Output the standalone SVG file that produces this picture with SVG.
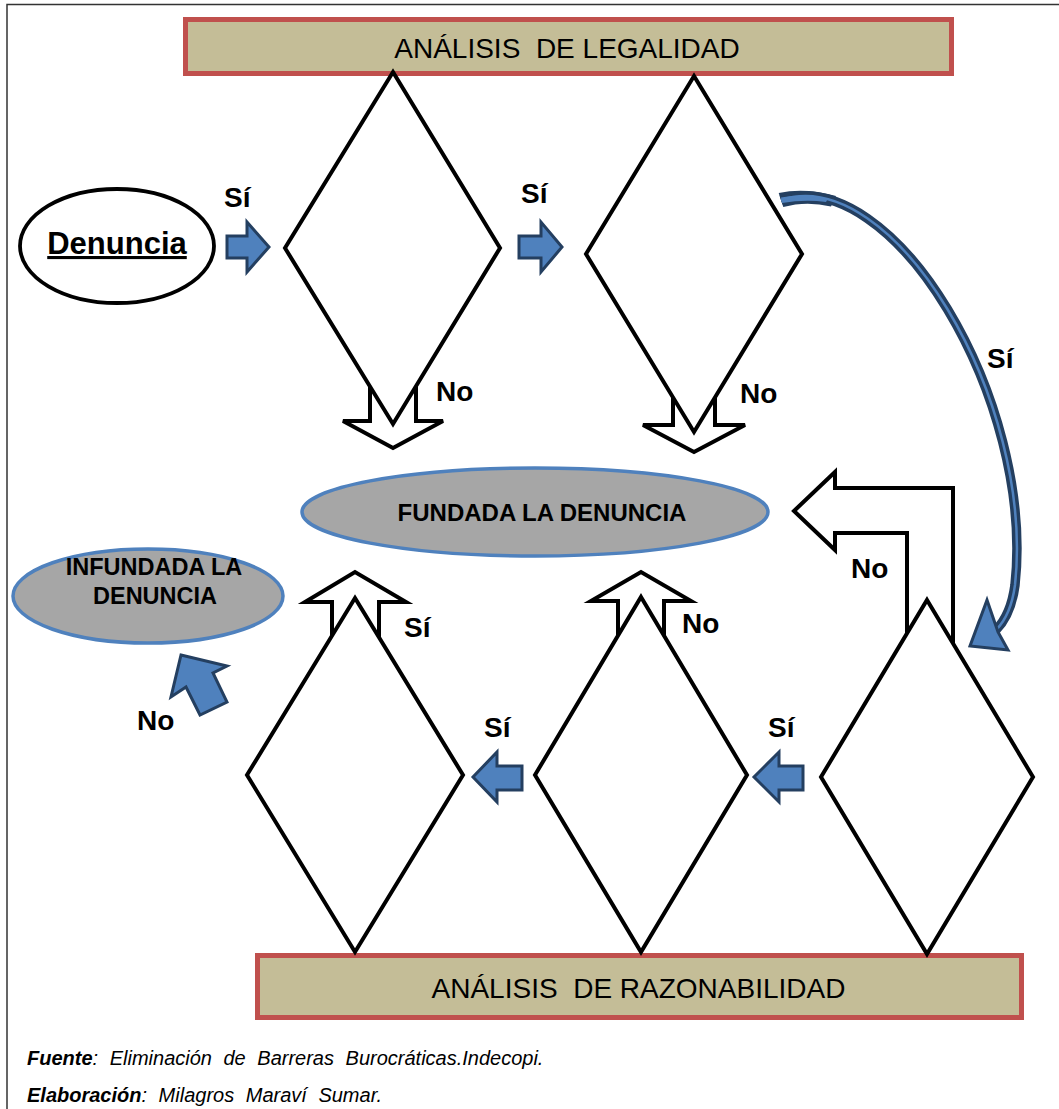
<svg xmlns="http://www.w3.org/2000/svg" width="1059" height="1109" viewBox="0 0 1059 1109">
<style>
.banner{fill:#c4bd97;stroke:#c0504d;stroke-width:5}
.btxt{font-family:"Liberation Sans",Arial,sans-serif;font-size:28px;fill:#000;text-anchor:middle}
.dia{fill:#fff;stroke:#000;stroke-width:4;stroke-linejoin:miter}
.warr{fill:#fff;stroke:#000;stroke-width:4;stroke-linejoin:miter}
.barr{fill:#4f81bd;stroke:#243f60;stroke-width:3;stroke-linejoin:miter}
.res{fill:#a6a6a6;stroke:#4f81bd;stroke-width:3.5}
.rtxt{font-family:"Liberation Sans",Arial,sans-serif;font-weight:bold;fill:#000;text-anchor:middle}
.lbl{font-family:"Liberation Sans",Arial,sans-serif;font-weight:bold;font-size:28px;fill:#000}
.foot{font-family:"Liberation Sans",Arial,sans-serif;font-style:italic;font-size:20px;word-spacing:6px;fill:#000}
</style>
<rect x="7" y="4.5" width="1100" height="1200" fill="#fff" stroke="#333" stroke-width="1.5"/>

<g id="connectors">
  <polygon class="warr" points="370,330 416,330 416,421 443,421 393,448 343,421 370,421"/>
  <polygon class="warr" points="673,340 715,340 715,425 745,425 694,452 643,425 673,425"/>
  <polygon class="warr" points="332,690 379,690 379,602 406,602 355,572 305,602 332,602"/>
  <polygon class="warr" points="618,690 664,690 664,601 691,601 641,572 591,601 618,601"/>
  <polygon class="warr" points="794,511 835,472 835,488 953,488 953,720 907,720 907,533 835,533 835,550"/>
</g>

<g id="banner-legalidad">
  <rect class="banner" x="185.5" y="19.5" width="766" height="54"/>
  <text class="btxt" x="567" y="58">ANÁLISIS&#160; DE LEGALIDAD</text>
</g>
<g id="banner-razonabilidad">
  <rect class="banner" x="257.5" y="955.5" width="764" height="62"/>
  <text class="btxt" x="638.5" y="998">ANÁLISIS&#160; DE RAZONABILIDAD</text>
</g>

<g id="denuncia">
  <ellipse cx="117" cy="246" rx="97" ry="57" fill="#fff" stroke="#000" stroke-width="3.8"/>
  <text x="117" y="254" text-anchor="middle" font-family="Liberation Sans, Arial, sans-serif" font-weight="bold" font-size="31" text-decoration="underline">Denuncia</text>
</g>

<g id="decision-1"><polygon class="dia" points="393,72 500,248 393,424 285,248"/></g>
<g id="decision-2"><polygon class="dia" points="694,76 802,254 694,432 586,254"/></g>
<g id="decision-3"><polygon class="dia" points="927,600 1033,777 927,954 821,777"/></g>
<g id="decision-4"><polygon class="dia" points="641,597 747,775 641,952 535,775"/></g>
<g id="decision-5"><polygon class="dia" points="355,598 463,775 355,952 247,775"/></g>

<g id="fundada">
  <ellipse class="res" cx="535" cy="512" rx="233" ry="44"/>
  <text class="rtxt" x="542" y="521" font-size="24">FUNDADA LA DENUNCIA</text>
</g>
<g id="infundada">
  <ellipse class="res" cx="148" cy="596" rx="135" ry="47"/>
  <text class="rtxt" x="154" y="575" font-size="23.5">INFUNDADA LA</text>
  <text class="rtxt" x="155" y="604" font-size="23.5">DENUNCIA</text>
</g>

<g id="blue-connectors">
  <polygon class="barr" points="227,236 247,236 247,222 269,247 247,272 247,258 227,258"/>
  <polygon class="barr" points="519,236 541,236 541,222 562,247 541,272 541,258 519,258"/>
  <polygon class="barr" points="803,766 779,766 779,752 754,777 779,802 779,790 803,790"/>
  <polygon class="barr" points="522,766 497,766 497,752 473,777 497,802 497,790 522,790"/>
  <polygon class="barr" points="181,655 227,666 213,673 227,702 200,715 186,687 171,697"/>
  <path d="M 781 200 C 893 163 1035 400 1015 585 Q 1011 615 996 630" fill="none" stroke="#243f60" stroke-width="9.5"/>
  <path d="M 778.7 192.9 Q 806 187.5 836 196 L 831 206.5 Q 806 200.5 783.3 207.1 Z" fill="#243f60"/>
  <path d="M 781 197.5 Q 805 193 828 198.5 L 826 202 Q 805 199 782 203 Z" fill="#4f81bd"/>
  <path d="M 781 200 C 893 163 1035 400 1015 585 Q 1011 615 996 630" fill="none" stroke="#4f81bd" stroke-width="2.5"/>
  <polygon class="barr" points="987,600 970,646 1008,650 998,632"/>
</g>

<g id="labels">
  <text class="lbl" x="224" y="207">Sí</text>
  <text class="lbl" x="521" y="203">Sí</text>
  <text class="lbl" x="436" y="401">No</text>
  <text class="lbl" x="740" y="403">No</text>
  <text class="lbl" x="987" y="368">Sí</text>
  <text class="lbl" x="851" y="578">No</text>
  <text class="lbl" x="682" y="633">No</text>
  <text class="lbl" x="404" y="637">Sí</text>
  <text class="lbl" x="768" y="737">Sí</text>
  <text class="lbl" x="484" y="737">Sí</text>
  <text class="lbl" x="137" y="730">No</text>
</g>

<g id="footer">
  <text class="foot" x="27" y="1065"><tspan font-weight="bold">Fuente</tspan>: Eliminación de Barreras Burocráticas.Indecopi.</text>
  <text class="foot" x="27" y="1102"><tspan font-weight="bold">Elaboración</tspan>: Milagros Maraví Sumar.</text>
</g>
</svg>
